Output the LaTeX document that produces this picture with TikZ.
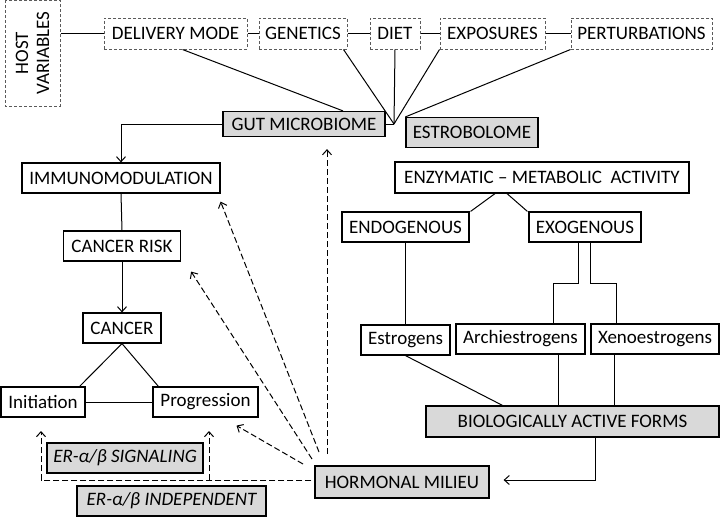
\documentclass[tikz,border=0pt]{standalone}
\usepackage{fontspec}
\setmainfont{Carlito}
\usetikzlibrary{arrows.meta}
\definecolor{boxgray}{RGB}{217,217,217}
\definecolor{dashgray}{RGB}{90,90,90}
\begin{document}
\begin{tikzpicture}[x=1pt,y=-1pt,
		font=\fontsize{19}{21}\selectfont,
		>={Straight Barb[length=5pt,width=9pt]},
		box/.style={draw, line width=1.2pt, inner sep=0pt, minimum height=30pt},
		gbox/.style={box, fill=boxgray},
		dbox/.style={draw=dashgray, line width=1pt, dash pattern=on 3pt off 2pt, inner sep=0pt, minimum height=31pt},
		link/.style={line width=1pt},
		dlink/.style={line width=1pt, dash pattern=on 6pt off 3pt},]

\useasboundingbox (0,0) rectangle (720,517);

\node[dbox, rotate=90, minimum width=106, minimum height=55, align=center] (host) at (32.5,53) {HOST\\VARIABLES};
\node[dbox, minimum width=143] (deliv) at (175.5,33.5) {DELIVERY MODE};
\node[dbox, minimum width=88] (genet) at (303,33.5) {GENETICS};
\node[dbox, minimum width=50] (diet) at (395,33.5) {DIET};
\node[dbox, minimum width=105] (expo) at (492.5,33.5) {EXPOSURES};
\node[dbox, minimum width=141] (pert) at (641.5,33.5) {PERTURBATIONS};

\node[gbox, minimum width=162, minimum height=25] (gut) at (304,124) {GUT MICROBIOME};
\node[gbox, minimum width=132] (estro) at (472,132.5) {ESTROBOLOME};
\coordinate (hub) at (394,124);

\node[box, minimum width=198] (immuno) at (121,178) {IMMUNOMODULATION};
\node[box, minimum width=117] (risk) at (122,246) {CANCER RISK};
\node[box, minimum width=78] (cancer) at (122,328) {CANCER};
\node[box, minimum width=84] (init) at (43,402) {Initiation};
\node[box, minimum width=105] (prog) at (205.5,402) {Progression};
\node[gbox, minimum width=156, font=\fontsize{19}{21}\selectfont\itshape] (sig) at (125,458) {ER-α/β SIGNALING};
\node[gbox, minimum width=189, font=\fontsize{19}{21}\selectfont\itshape] (indep) at (171.5,501) {ER-α/β INDEPENDENT};
\node[gbox, minimum width=174, minimum height=32] (horm) at (402,482) {HORMONAL MILIEU};

\node[box, minimum width=294, minimum height=31] (enz) at (542,177.5) {ENZYMATIC – METABOLIC\ \ ACTIVITY};
\node[box, minimum width=127] (endo) at (405.5,227) {ENDOGENOUS};
\node[box, minimum width=112] (exo) at (585,227) {EXOGENOUS};
\node[box, minimum width=89] (estr) at (405.5,340) {Estrogens};
\node[box, minimum width=129] (arch) at (520.5,339) {Archiestrogens};
\node[box, minimum width=128] (xeno) at (655,339) {Xenoestrogens};
\node[gbox, minimum width=293, minimum height=31] (bio) at (572.5,421.5) {BIOLOGICALLY ACTIVE FORMS};

\draw[link] (host.south |- deliv.west) -- (deliv.west);
\draw[link] (deliv) -- (genet);
\draw[link] (genet) -- (diet);
\draw[link] (diet) -- (expo);
\draw[link] (expo) -- (pert);
\draw[link] ([xshift=7pt]deliv.south) -- ([xshift=39pt]gut.north);
\draw[link] ([xshift=-4pt]genet.south east) -- (hub);
\draw[link] (diet.south) -- (hub);
\draw[link] (expo.south west) -- (hub);
\draw[link] (pert.south west) -- (estro.north west);
\draw[link] (gut.east) -- (hub);

\draw[link,->] (gut.west) -| (immuno.north);
\draw[link] (immuno.south) -- (risk.north);
\draw[link,->] (risk.south) -- (cancer.north);
\draw[link] (cancer.south) -- ([xshift=-6pt]init.north east);
\draw[link] (cancer.south) -- ([xshift=6pt]prog.north west);
\draw[link] (init) -- (prog);

\draw[link] ([xshift=-47pt]enz.south) -- ([xshift=1pt]endo.north east);
\draw[link] ([xshift=-35pt]enz.south) -- ([xshift=-1pt]exo.north west);
\draw[link] (endo.south) -- (estr.north);
\draw[link] ([xshift=-7pt]exo.south) -- ++(0,41) -| ([xshift=32.5pt]arch.north);
\draw[link] ([xshift=5pt]exo.south) -- ++(0,41) -| ([xshift=-39pt]xeno.north);
\draw[link] (estr.south) -- ([xshift=-70pt]bio.north);
\draw[link] ([xshift=37.5pt]arch.south) -- ([xshift=37.5pt]arch.south |- bio.north);
\draw[link] ([xshift=-41pt]xeno.south) -- ([xshift=-41pt]xeno.south |- bio.north);
\draw[link,->] ([xshift=22.5pt]bio.south) |- ([xshift=14pt,yshift=2pt]horm.east);

\coordinate (h1) at (327,454);
\coordinate (h2) at (319,452);
\coordinate (h3) at (312,459);
\coordinate (h4) at (303,464);
\coordinate (itip) at (41,431);
\coordinate (ptip) at (209,431);
\draw[dlink,->] (h1) -- ([xshift=23pt,yshift=-12pt]gut.south);
\draw[dlink,->] (h2) -- ([yshift=-8pt]immuno.south east);
\draw[dlink,->] (h3) -- ([xshift=10pt,yshift=-10pt]risk.south east);
\draw[dlink,->] (h4) -- ([xshift=31pt,yshift=-8pt]prog.south);
\draw[dlink,->] ([xshift=-3pt,yshift=2pt]horm.west) -| (itip);
\draw[dlink,->] (ptip |- horm.west) ++(0,-2) -- (ptip);
\end{tikzpicture}
\end{document}
